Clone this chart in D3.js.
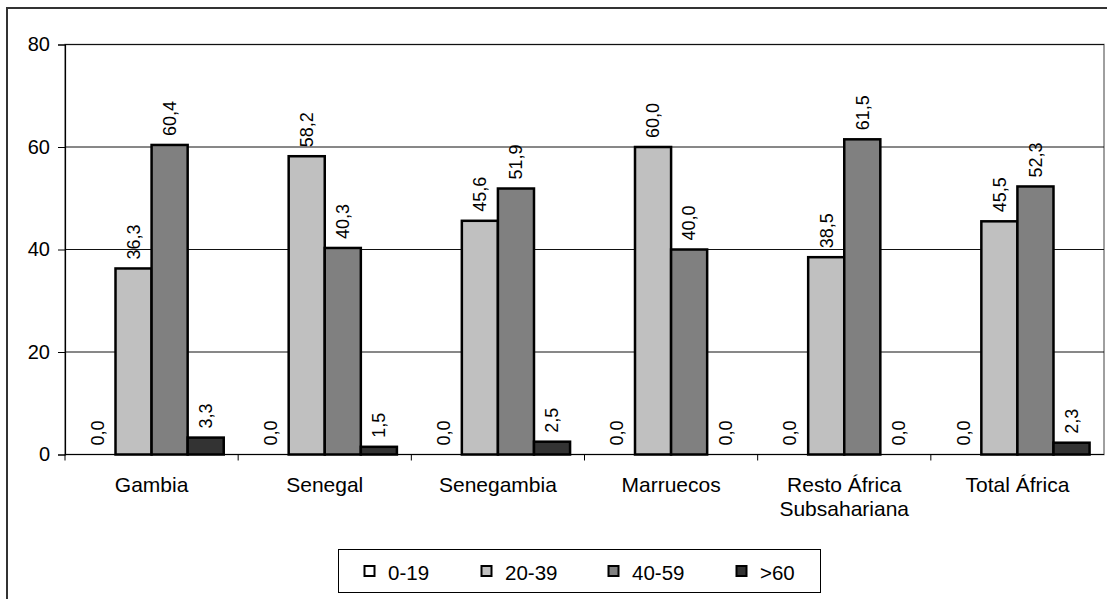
<!DOCTYPE html>
<html>
<head>
  <meta charset="utf-8">
  <script src="https://d3js.org/d3.v7.min.js"></script>
  <style>
    body { margin: 0; background: #fff; font-family: 'Liberation Sans', Arial, sans-serif; }
  </style>
</head>
<body>
  <div id="my_dataviz"></div>
  <script>
    // data
    var categories = ["Gambia", "Senegal", "Senegambia", "Marruecos", "Resto África|Subsahariana", "Total África"];
    var series = ["0-19", "20-39", "40-59", ">60"];
    var colors = ["#ffffff", "#c0c0c0", "#808080", "#333333"];
    var v0_19  = [0.0, 0.0, 0.0, 0.0, 0.0, 0.0];
    var v20_39 = [36.3, 58.2, 45.6, 60.0, 38.5, 45.5];
    var v40_59 = [60.4, 40.3, 51.9, 40.0, 61.5, 52.3];
    var v60    = [3.3, 1.5, 2.5, 0.0, 0.0, 2.3];
    var yTicks = [0, 20, 40, 60, 80];

    var values = [v0_19, v20_39, v40_59, v60];

    var W = 1107, H = 599;
    var plot = { left: 65, right: 1104, top: 44.5, bottom: 454.5 };

    var svg = d3.select("#my_dataviz")
      .append("svg")
      .attr("width", W)
      .attr("height", H);

    // outer chart border
    svg.append("rect")
      .attr("x", 7).attr("y", 8)
      .attr("width", W + 10).attr("height", H + 10)
      .attr("fill", "none")
      .attr("stroke", "#333")
      .attr("stroke-width", 2);

    var x0 = d3.scaleBand()
      .domain(categories)
      .range([plot.left, plot.right])
      .padding(0);

    var x1 = d3.scaleBand()
      .domain(series)
      .range([0, x0.bandwidth()])
      .paddingInner(0)
      .paddingOuter(0.4);

    var y = d3.scaleLinear()
      .domain([0, 80])
      .range([plot.bottom, plot.top]);

    // plot area border
    svg.append("rect")
      .attr("x", plot.left).attr("y", plot.top)
      .attr("width", plot.right - plot.left)
      .attr("height", plot.bottom - plot.top)
      .attr("fill", "none")
      .attr("stroke", "#808080")
      .attr("stroke-width", 1.5);

    // gridlines
    svg.append("g")
      .selectAll("line")
      .data(yTicks.slice(1))
      .enter()
      .append("line")
      .attr("x1", plot.left).attr("x2", plot.right)
      .attr("y1", function (d) { return y(d); })
      .attr("y2", function (d) { return y(d); })
      .attr("stroke", "#111")
      .attr("stroke-width", 1);

    // Y axis
    var yAxis = svg.append("g")
      .attr("transform", "translate(" + plot.left + ",0)")
      .call(d3.axisLeft(y).tickValues(yTicks).tickSize(7).tickPadding(8).tickFormat(d3.format("d")));
    yAxis.select(".domain").attr("stroke", "#000").attr("stroke-width", 1.2);
    yAxis.selectAll(".tick line").attr("stroke", "#000");
    yAxis.selectAll("text")
      .style("font-family", "'Liberation Sans', Arial, sans-serif")
      .style("font-size", "20px")
      .attr("fill", "#000");

    // X axis
    var xAxis = svg.append("g")
      .attr("transform", "translate(0," + plot.bottom + ")");
    xAxis.append("line")
      .attr("x1", plot.left).attr("x2", plot.right)
      .attr("stroke", "#000").attr("stroke-width", 1.2);
    xAxis.selectAll(".tk")
      .data(categories)
      .enter()
      .append("line")
      .attr("class", "tk")
      .attr("x1", function (d) { return x0(d); })
      .attr("x2", function (d) { return x0(d); })
      .attr("y1", 0).attr("y2", 6)
      .attr("stroke", "#000");

    var catLabels = xAxis.selectAll(".cat")
      .data(categories)
      .enter()
      .append("text")
      .attr("class", "cat")
      .attr("x", function (d) { return x0(d) + x0.bandwidth() / 2; })
      .attr("y", 37)
      .attr("text-anchor", "middle")
      .style("font-size", "21px")
      .attr("fill", "#000");
    catLabels.each(function (d) {
      var parts = d.split("|");
      var t = d3.select(this);
      parts.forEach(function (p, i) {
        t.append("tspan")
          .attr("x", x0(d) + x0.bandwidth() / 2)
          .attr("dy", i === 0 ? 0 : 24.5)
          .text(p);
      });
    });

    // bars
    var rows = categories.map(function (c, i) {
      return series.map(function (s, j) {
        return { cat: c, key: s, value: values[j][i], color: colors[j] };
      });
    });

    var groups = svg.append("g")
      .selectAll("g")
      .data(rows)
      .enter()
      .append("g")
      .attr("transform", function (d) { return "translate(" + x0(d[0].cat) + ",0)"; });

    groups.selectAll("rect")
      .data(function (d) { return d.filter(function (b) { return b.value > 0; }); })
      .enter()
      .append("rect")
      .attr("x", function (d) { return x1(d.key); })
      .attr("y", function (d) { return y(d.value); })
      .attr("width", x1.bandwidth())
      .attr("height", function (d) { return y(0) - y(d.value); })
      .attr("fill", function (d) { return d.color; })
      .attr("stroke", "#000")
      .attr("stroke-width", 2.5);

    var fmt = function (v) { return d3.format(".1f")(v).replace(".", ","); };

    groups.selectAll("text")
      .data(function (d) { return d; })
      .enter()
      .append("text")
      .attr("transform", function (d) {
        return "translate(" + (x1(d.key) + x1.bandwidth() / 2) + "," + (y(d.value) - 9) + ") rotate(-90)";
      })
      .attr("dy", "0.35em")
      .attr("text-anchor", "start")
      .style("font-size", "18px")
      .attr("fill", "#000")
      .text(function (d) { return fmt(d.value); });

    // legend
    var legend = svg.append("g");
    legend.append("rect")
      .attr("x", 338.5).attr("y", 549.5)
      .attr("width", 482).attr("height", 43)
      .attr("fill", "#fff")
      .attr("stroke", "#000")
      .attr("stroke-width", 1);

    var legX = [364.5, 481.5, 608.5, 736.5];
    var items = legend.selectAll(".item")
      .data(series)
      .enter()
      .append("g")
      .attr("class", "item")
      .attr("transform", function (d, i) { return "translate(" + legX[i] + ",566)"; });
    items.append("rect")
      .attr("width", 10).attr("height", 10)
      .attr("fill", function (d, i) { return colors[i]; })
      .attr("stroke", "#000")
      .attr("stroke-width", 2);
    items.append("text")
      .attr("x", 23.5)
      .attr("y", 13.5)
      .style("font-size", "20.5px")
      .attr("fill", "#000")
      .text(function (d) { return d; });
  </script>
</body>
</html>
